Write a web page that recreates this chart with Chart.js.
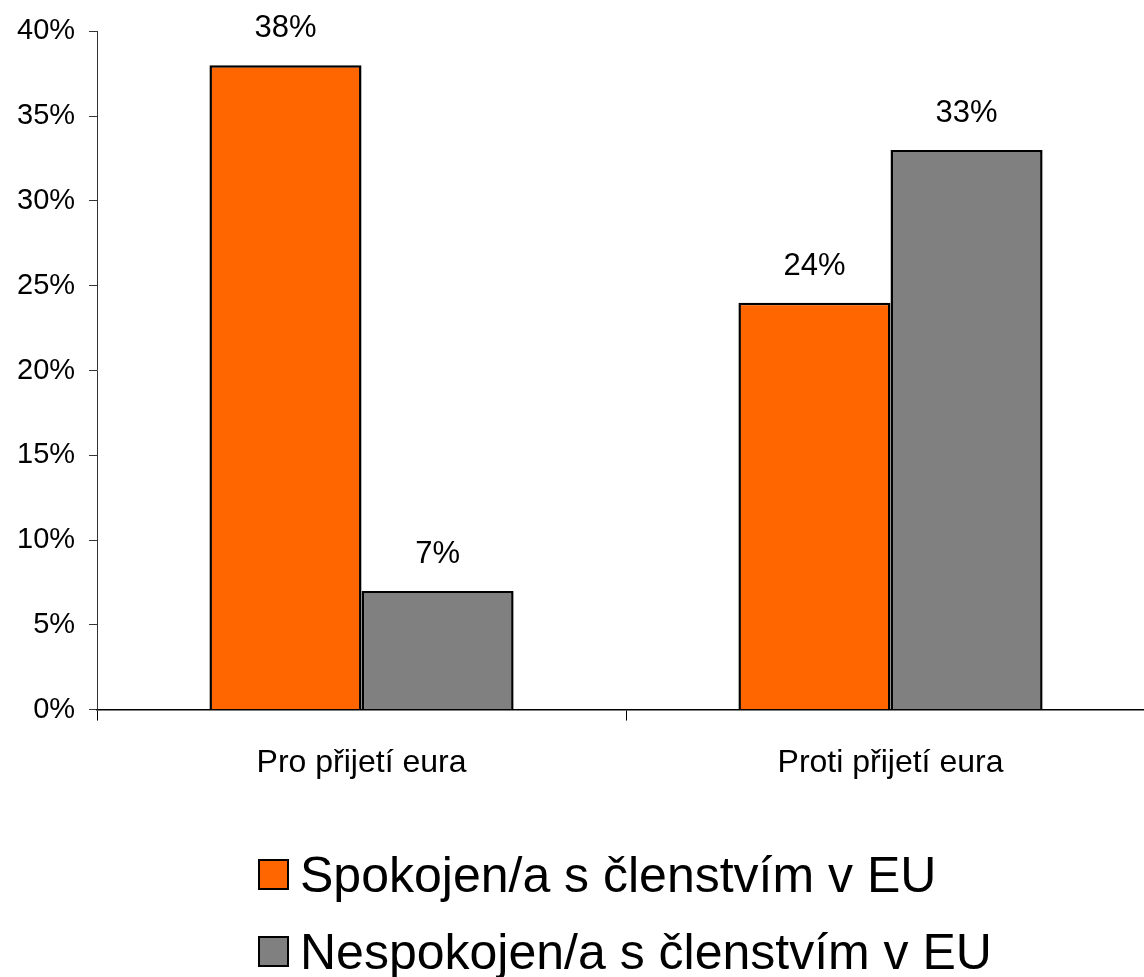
<!DOCTYPE html>
<html>
<head>
<meta charset="utf-8">
<script src="https://cdn.jsdelivr.net/npm/chart.js@4.4.1/dist/chart.umd.min.js"></script>
<style>
  html, body { margin: 0; padding: 0; background: #fff; overflow: hidden; width: 1144px; height: 977px; }
  #wrap { position: absolute; left: 0; top: 0; width: 1160px; height: 821px; }
  #legend { position: absolute; left: 258px; top: 836px; font-family: "Liberation Sans", Arial, sans-serif; font-size: 50px; color: #000; }
  .row { display: flex; align-items: center; height: 77px; white-space: nowrap; }
  .box { width: 27px; height: 27px; border: 2px solid #000; margin-right: 11px; }
</style>
</head>
<body>
<div id="wrap"><canvas id="myChart"></canvas></div>
<div id="legend"></div>
<script>
// chart data
const categories = ["Pro přijetí eura", "Proti přijetí eura"];
const seriesNames = ["Spokojen/a s členstvím v EU", "Nespokojen/a s členstvím v EU"];
const satisfied = [38, 24];
const unsatisfied = [7, 33];
const seriesColors = ["#FF6600", "#808080"];
const yTicks = [0, 5, 10, 15, 20, 25, 30, 35, 40];

const FONT = "'Liberation Sans', Arial, sans-serif";

// draws the value above each bar
const valueLabels = {
  id: "valueLabels",
  afterDatasetsDraw(chart) {
    const ctx = chart.ctx;
    ctx.save();
    ctx.font = "31px " + FONT;
    ctx.fillStyle = "#000";
    ctx.textAlign = "center";
    ctx.textBaseline = "alphabetic";
    chart.data.datasets.forEach((ds, i) => {
      chart.getDatasetMeta(i).data.forEach((bar, j) => {
        ctx.fillText(ds.data[j] + "%", bar.x, bar.y - 28);
      });
    });
    ctx.restore();
  },
};

const ctx = document.getElementById("myChart").getContext("2d");
new Chart(ctx, {
  type: "bar",
  data: {
    labels: categories,
    datasets: [
      {
        label: seriesNames[0],
        data: satisfied,
        backgroundColor: seriesColors[0],
        borderColor: "#000",
        borderWidth: 2.5,
        categoryPercentage: 0.575,
        barPercentage: 1.0,
      },
      {
        label: seriesNames[1],
        data: unsatisfied,
        backgroundColor: seriesColors[1],
        borderColor: "#000",
        borderWidth: 2.5,
        categoryPercentage: 0.575,
        barPercentage: 1.0,
      },
    ],
  },
  options: {
    responsive: true,
    maintainAspectRatio: false,
    animation: false,
    layout: { padding: { left: 3, top: 25, right: 5, bottom: 16 } },
    plugins: {
      legend: { display: false },
      tooltip: { enabled: false },
    },
    scales: {
      x: {
        grid: {
          offset: true,
          drawOnChartArea: false,
          drawTicks: true,
          tickLength: 11,
          color: "#000",
        },
        border: { display: true, color: "#000", width: 1.5 },
        ticks: { color: "#000", font: { family: FONT, size: 32 }, padding: 23 },
      },
      y: {
        min: 0,
        max: 40,
        afterBuildTicks: (axis) => {
          axis.ticks = yTicks.map((v) => ({ value: v }));
        },
        grid: {
          drawOnChartArea: false,
          drawTicks: true,
          tickLength: 8,
          color: "#333",
        },
        border: { display: true, color: "#333", width: 1 },
        ticks: {
          color: "#000",
          font: { family: FONT, size: 29 },
          padding: 14,
          callback: (v) => v + "%",
        },
      },
    },
  },
  plugins: [valueLabels],
});

// legend below the chart
const legend = document.getElementById("legend");
seriesNames.forEach((name, i) => {
  const row = document.createElement("div");
  row.className = "row";
  const box = document.createElement("div");
  box.className = "box";
  box.style.background = seriesColors[i];
  const txt = document.createElement("span");
  txt.textContent = name;
  row.appendChild(box);
  row.appendChild(txt);
  legend.appendChild(row);
});
</script>
</body>
</html>
